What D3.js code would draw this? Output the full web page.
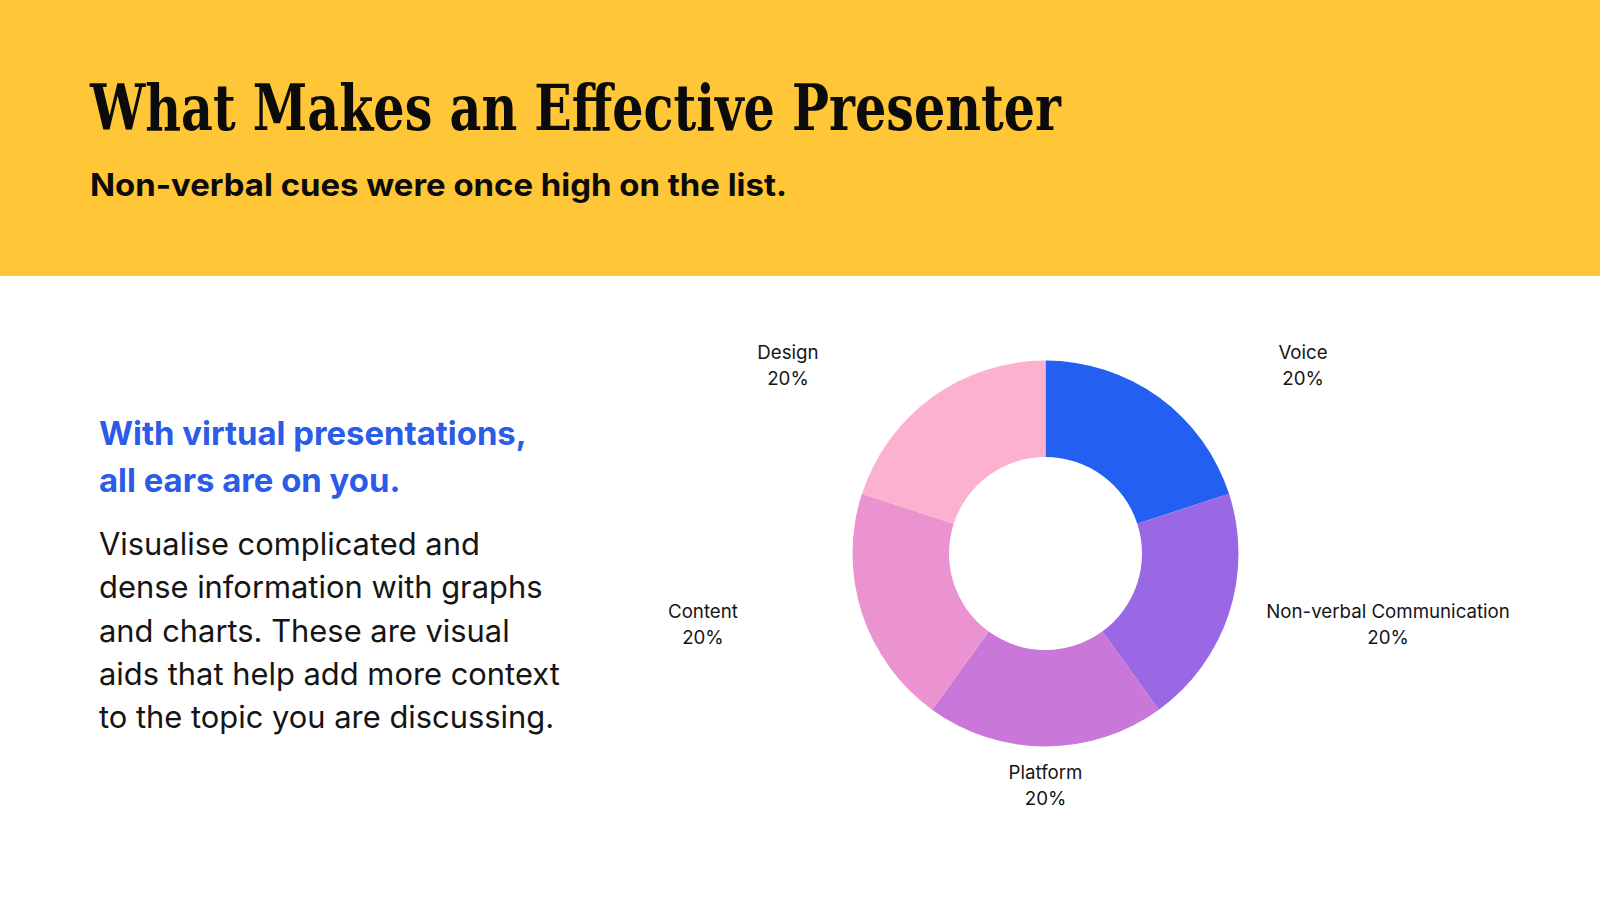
<!DOCTYPE html>
<html>
<head>
<meta charset="utf-8">
<script src="https://cdn.jsdelivr.net/npm/d3@7"></script>
<style>
  html, body { margin: 0; padding: 0; background: #fff; }
  svg { display: block; }
  .title { font-family: "DejaVu Serif Condensed", "DejaVu Serif", serif; font-weight: 700; fill: #0b0b0b; }
  .sub { font-family: Inter, "Noto Sans", sans-serif; font-weight: 700; fill: #0b0b0b; }
  .lead { font-family: Inter, "Noto Sans", sans-serif; font-weight: 700; fill: #2b5ce8; }
  .body { font-family: Inter, "Noto Sans", sans-serif; font-weight: 400; fill: #151515; }
  .lbl { font-family: Inter, "Noto Sans", sans-serif; font-weight: 400; fill: #151515; font-size: 18.7px; }
</style>
</head>
<body>
<div id="chart"></div>
<script>
/* Donut of what makes an effective presenter, with a slide header and side blurb */
const categories = ["Voice", "Non-verbal Communication", "Platform", "Content", "Design"];
const shares = [20, 20, 20, 20, 20];
const colors = ["#2360f2", "#9a67e5", "#c977d8", "#eb93d0", "#fdb1d1"];

const titleText = "What Makes an Effective Presenter";
const subtitleText = "Non-verbal cues were once high on the list.";
const leadLines = ["With virtual presentations,", "all ears are on you."];
const bodyLines = [
  "Visualise complicated and",
  "dense information with graphs",
  "and charts. These are visual",
  "aids that help add more context",
  "to the topic you are discussing."
];

const W = 1600, H = 900;
const svg = d3.select("#chart").append("svg").attr("width", W).attr("height", H);

// header band
svg.append("rect").attr("x", 0).attr("y", 0).attr("width", W).attr("height", 276).attr("fill", "#ffc637");
svg.append("text").attr("class", "title").attr("x", 90).attr("y", 130)
  .attr("font-size", 64).attr("textLength", 971).attr("lengthAdjust", "spacingAndGlyphs")
  .text(titleText);
svg.append("text").attr("class", "sub").attr("x", 90).attr("y", 196)
  .attr("font-size", 31).attr("textLength", 697).attr("lengthAdjust", "spacingAndGlyphs")
  .text(subtitleText);

// fit a block of lines so its widest line matches a target width
function block(cls, lines, x, y0, lh, size, maxW) {
  const g = svg.append("g");
  const t = g.selectAll("text").data(lines).join("text")
    .attr("class", cls).attr("x", x).attr("y", (d, i) => y0 + i * lh)
    .attr("font-size", size).text((d) => d);
  const widest = d3.max(t.nodes(), (n) => n.getComputedTextLength());
  t.attr("font-size", size * maxW / widest);
}
block("lead", leadLines, 99, 445, 46.5, 31, 428);
block("body", bodyLines, 99, 555, 43.3, 29, 461);

// donut
const cx = 1045.5, cy = 553.5, rOuter = 193, rInner = 96.5;
const pie = d3.pie().sort(null).value((d) => d);
const arcs = pie(shares);
const arc = d3.arc().innerRadius(rInner).outerRadius(rOuter);
const g = svg.append("g").attr("transform", `translate(${cx},${cy})`);
g.selectAll("path").data(arcs).join("path")
  .attr("d", arc).attr("fill", (d, i) => colors[i]);

// labels: vertical on an ellipse, pushed sideways by the slice's angle
const ry = 232, labelInset = 120, labelSpread = 234;
const mid = (d) => (d.startAngle + d.endAngle) / 2;
const lab = g.selectAll("g.lab").data(arcs).join("g").attr("class", "lab")
  .attr("transform", (d) => {
    const s = Math.sin(mid(d));
    const dx = Math.abs(s) < 1e-6 ? 0 : Math.sign(s) * (labelInset + labelSpread * Math.abs(s));
    const dy = -ry * Math.cos(mid(d));
    return `translate(${dx},${dy})`;
  });
lab.append("text").attr("class", "lbl").attr("text-anchor", "middle").attr("y", -7)
  .text((d, i) => categories[i]);
lab.append("text").attr("class", "lbl").attr("text-anchor", "middle").attr("y", 19)
  .text((d) => d.value + "%");
</script>
</body>
</html>
